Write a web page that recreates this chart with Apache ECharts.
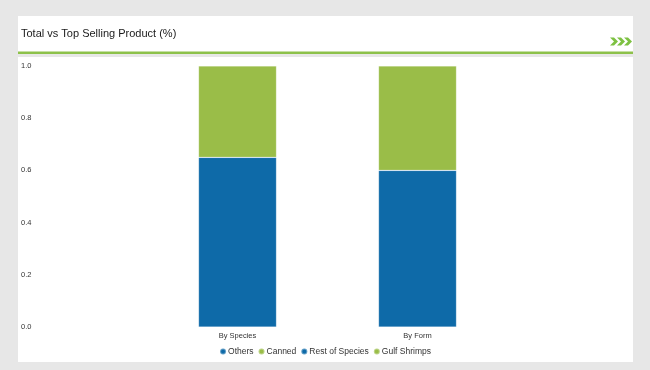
<!DOCTYPE html>
<html><head><meta charset="utf-8">
<script src="https://cdn.jsdelivr.net/npm/echarts@6/dist/echarts.min.js"></script>
<style>html,body{margin:0;padding:0;background:#e7e7e7}#c{width:650px;height:370px}</style>
</head><body><div id="c"></div>
<script>
var categories = ['By Species', 'By Form'];
var others = ['-', 0.60];
var canned = ['-', 0.40];
var restOfSpecies = [0.65, '-'];
var gulfShrimps = [0.35, '-'];
var yTicks = [0, 0.2, 0.4, 0.6, 0.8, 1.0];

var BLUE = '#0e6aa8', GREEN = '#9abd48';
var FONT = "'Liberation Sans', sans-serif";
var chart = echarts.init(document.getElementById('c'));
function bar(name, data, color) {
  return { name: name, type: 'bar', stack: 'total', data: data, barWidth: 78,
    itemStyle: { color: color, borderColor: 'rgba(255,255,255,0.35)', borderWidth: 0.6 } };
}
function chevron(x) {
  return { type: 'polygon', shape: { points: [[x, 37.5], [x + 4, 37.5], [x + 8, 41.5], [x + 4, 45.5], [x, 45.5], [x + 4, 41.5]] },
    style: { fill: '#7dc142' } };
}
chart.setOption({
  backgroundColor: '#e7e7e7',
  animation: false,
  graphic: [
    { type: 'rect', shape: { x: 18, y: 16, width: 615, height: 36 }, style: { fill: '#fff' }, z: -10 },
    { type: 'rect', shape: { x: 18, y: 51.5, width: 615, height: 2.5 }, style: { fill: '#8dc14a' }, z: -9 },
    { type: 'rect', shape: { x: 18, y: 57, width: 615, height: 305 }, style: { fill: '#fff' }, z: -10 },
    { type: 'text', left: 21, top: 28, style: { text: 'Total vs Top Selling Product (%)', font: '11px ' + FONT, fill: '#1a1a1a' } },
    chevron(610), chevron(617), chevron(624)
  ],
  legend: {
    data: ['Others', 'Canned', 'Rest of Species', 'Gulf Shrimps'],
    left: 'center', top: 342, icon: 'circle', itemWidth: 6, itemHeight: 6, itemGap: 4,
    textStyle: { fontSize: 8.5, color: '#333', fontFamily: FONT, padding: [0, 0, 0, -3] }
  },
  grid: { left: 147.5, width: 360, top: 66, bottom: 43 },
  xAxis: {
    type: 'category', data: categories,
    axisLine: { show: false }, axisTick: { show: false },
    axisLabel: { fontSize: 7.5, color: '#333', fontFamily: FONT, margin: 5 }
  },
  yAxis: {
    type: 'value', min: 0, max: 1, interval: 0.2,
    splitLine: { show: false }, axisLine: { show: false }, axisTick: { show: false },
    axisLabel: { fontSize: 7.5, color: '#333', fontFamily: FONT, margin: 116,
      formatter: function (v) { return v.toFixed(1); } }
  },
  series: [
    bar('Others', others, BLUE),
    bar('Canned', canned, GREEN),
    bar('Rest of Species', restOfSpecies, BLUE),
    bar('Gulf Shrimps', gulfShrimps, GREEN)
  ]
});
</script></body></html>
